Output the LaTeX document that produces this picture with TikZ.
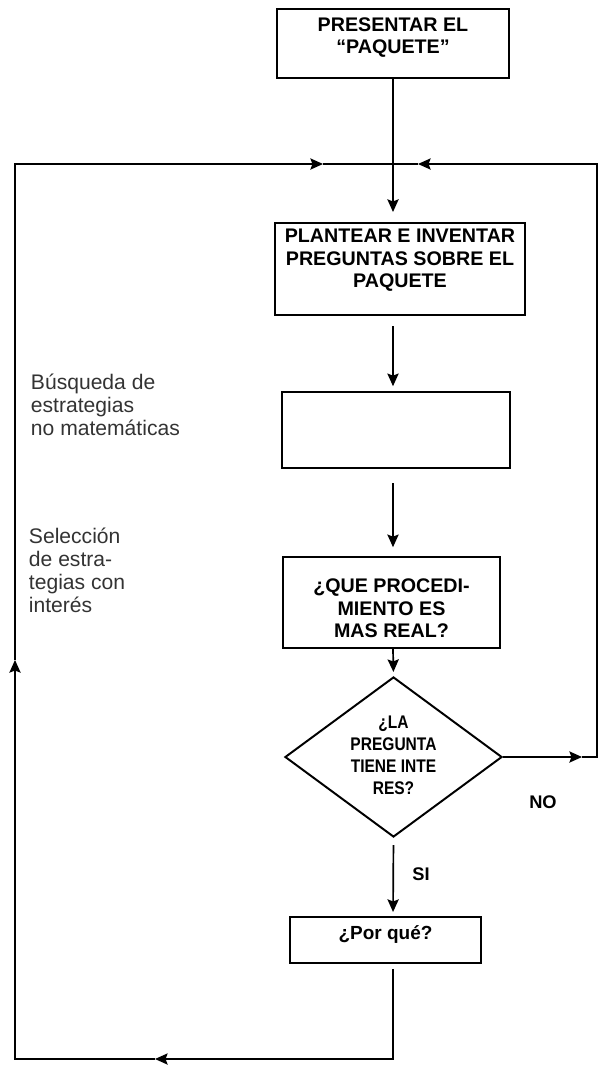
\documentclass[tikz,border=0pt]{standalone}
\usepackage{fontspec}
\setmainfont{Liberation Sans}
\newfontfamily\narrowsans[FakeStretch=0.85]{Liberation Sans}
\usetikzlibrary{arrows.meta,shapes.geometric}
\newcommand{\boxtext}[2]{\raisebox{#1}[\height][\depth]{\begin{tabular}{@{}c@{}}#2\end{tabular}}}

\begin{document}
\begin{tikzpicture}[x=0.025cm,y=-0.025cm,
	caja/.style={draw, line width=1.4pt, inner sep=0pt, font=\bfseries\fontsize{14}{16}\selectfont},
	rombo/.style={draw, diamond, aspect=1.34, line width=1.4pt, inner sep=0pt, font=\narrowsans\bfseries\fontsize{13}{15.5}\selectfont},
	linea/.style={line width=1pt},
	flecha/.style={line width=1.2pt, -{Stealth[length=9pt,width=8pt,inset=1.5pt]}},
	vuelta/.style={linea, -{Stealth[length=9pt,width=8pt,inset=1.5pt]}},
	nota/.style={anchor=west, align=left, text=black!80, font=\fontsize{15}{16.3}\selectfont},
	rama/.style={font=\bfseries\fontsize{13}{16}\selectfont}]
	\useasboundingbox (0,0) rectangle (600,1072);

	\coordinate (top) at (393,164);
	\coordinate (tl) at (15,164);
	\coordinate (tr) at (597,164);
	\coordinate (bl) at (15,1059);
	\coordinate (br) at (393,1059);
	\coordinate (nr) at (597,757);
	\coordinate (botA) at (155,1059);
	\coordinate (upL) at (15,660);
	\coordinate (topA) at (323,164);
	\coordinate (topB) at (418,164);
	\coordinate (noA) at (582,757);

	\node[caja, minimum width=5.8cm, minimum height=1.725cm] (pres) at (393,43.5) {\boxtext{4pt}{PRESENTAR EL\\``PAQUETE''}};
	\node[caja, minimum width=6.25cm, minimum height=2.3cm] (plan) at (400,269) {\boxtext{6pt}{PLANTEAR E INVENTAR\\PREGUNTAS SOBRE EL\\PAQUETE}};
	\node[caja, minimum width=5.7cm, minimum height=1.9cm] (vacia) at (396,430) {};
	\node[caja, minimum width=5.425cm, minimum height=2.275cm] (proc) at (391.5,602.5) {\boxtext{-6pt}{¿QUE PROCEDI-\\MIENTO ES\\MAS REAL?}};
	\node[rombo, minimum width=5.425cm, minimum height=4cm] (preg) at (393.5,757) {\begin{tabular}{@{}c@{}}¿LA\\PREGUNTA\\TIENE INTE\\RES?\end{tabular}};
	\node[caja, minimum width=4.775cm, minimum height=1.15cm, font=\bfseries\fontsize{13.5}{16}\selectfont] (porque) at (385.5,940) {\boxtext{3.5pt}{¿Por qué?}};

	\node[nota] (busq) at (26,405) {Búsqueda de\\estrategias\\no matemáticas};
	\node[nota] (selec) at (24,570) {Selección\\de estra-\\tegias con\\interés};
	\node[rama] (si) at (421,874) {SI};
	\node[rama] (no) at (543,802) {NO};

	% camino principal
	\draw[flecha, shorten >=0.25cm] (pres.south) -- (plan.north -| top);
	\draw[flecha, shorten <=0.25cm, shorten >=0.12cm] (plan.south -| top) -- (vacia.north -| top);
	\draw[flecha, shorten <=0.35cm, shorten >=0.22cm] (vacia.south -| top) -- (proc.north -| top);
	\draw[flecha, shorten >=0.1cm] (proc.south -| top) -- (preg.north);
	\draw[flecha, shorten <=0.18cm, shorten >=0.1cm] (preg.south) -- (porque.north -| top);

	% vuelta por la izquierda
	\draw[vuelta, shorten <=0.12cm] (porque.south -| top) -- (br) -- (botA);
	\draw[vuelta] (botA) -- (bl) -- (upL);
	\draw[vuelta] (upL) -- (tl) -- (topA);
	\draw[linea] (topA) -- (top);

	% vuelta por la derecha (NO)
	\draw[vuelta] (preg.east) -- (noA);
	\draw[vuelta] (noA) -- (nr) -- (tr) -- (topB);
	\draw[linea] (topB) -- (top);
\end{tikzpicture}
\end{document}
